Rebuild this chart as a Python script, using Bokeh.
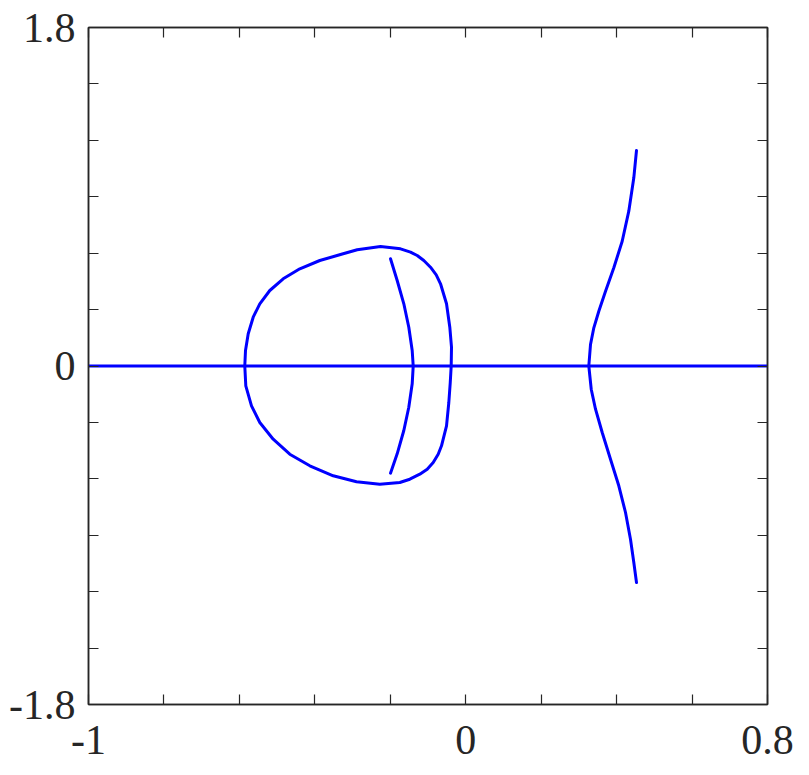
from bokeh.plotting import figure
from bokeh.models import FixedTicker, Range1d, LinearAxis
from bokeh.embed import file_html
from bokeh.resources import INLINE

# ---- data ----
x_ticks = [-1, 0, 0.8]
x_tick_labels = ["-1", "0", "0.8"]
x_minor = [-0.8, -0.6, -0.4, -0.2, 0.2, 0.4, 0.6]
x_all = [-1, -0.8, -0.6, -0.4, -0.2, 0, 0.2, 0.4, 0.6, 0.8]
y_ticks = [-1.8, 0, 1.8]
y_tick_labels = ["-1.8", "0", "1.8"]
y_minor = [-1.5, -1.2, -0.9, -0.6, -0.3, 0.3, 0.6, 0.9, 1.2, 1.5]
y_all = [-1.8, -1.5, -1.2, -0.9, -0.6, -0.3, 0, 0.3, 0.6, 0.9, 1.2, 1.5, 1.8]

real_axis_x = [-1.0, 0.8]
real_axis_y = [0.0, 0.0]

# closed loop (upper half left->right, then lower half right->left)
loop_x = [-0.5857, -0.5838, -0.5766, -0.5634, -0.5459, -0.5194, -0.4839, -0.4398,
          -0.3868, -0.3319, -0.2877, -0.2259, -0.1729, -0.1464, -0.1286, -0.1111,
          -0.0934, -0.0782, -0.0668, -0.0509, -0.0422, -0.0377, -0.0385,
          -0.0410, -0.0448, -0.0509, -0.0642, -0.0730, -0.0862, -0.1021, -0.1217,
          -0.1482, -0.1747, -0.2278, -0.2895, -0.3513, -0.4133, -0.4664, -0.5104,
          -0.5459, -0.5679, -0.5830, -0.5857]
loop_y = [0.0, 0.0824, 0.1712, 0.2595, 0.3308, 0.4015, 0.4637, 0.5169,
          0.5610, 0.5929, 0.6179, 0.6355, 0.6232, 0.6052, 0.5876, 0.5610,
          0.5254, 0.4850, 0.4371, 0.3308, 0.2063, 0.1000, 0.0,
          -0.0877, -0.1941, -0.3180, -0.4243, -0.4690, -0.5132, -0.5488, -0.5754,
          -0.6020, -0.6195, -0.6285, -0.6158, -0.5839, -0.5307, -0.4690, -0.3893,
          -0.3004, -0.2116, -0.1053, 0.0]

# inner arc
arc_x = [-0.1994, -0.1817, -0.1641, -0.1509, -0.1419, -0.1392,
         -0.1419, -0.1509, -0.1641, -0.1817, -0.1994]
arc_y = [0.5700, 0.4547, 0.3308, 0.2063, 0.0824, 0.0,
         -0.0947, -0.2191, -0.3430, -0.4669, -0.5700]

# right branch
right_x = [0.4527, 0.4456, 0.4323, 0.4148, 0.3926, 0.3706, 0.3528, 0.3396, 0.3308, 0.3263,
           0.3327, 0.3441, 0.3618, 0.3838, 0.4058, 0.4236, 0.4368, 0.4456, 0.4527]
right_y = [1.1459, 1.0008, 0.8232, 0.6636, 0.5222, 0.3978, 0.2914, 0.2031, 0.1143, 0.0,
           -0.1234, -0.2297, -0.3536, -0.4956, -0.6371, -0.7790, -0.9210, -1.0449, -1.1513]

# ---- figure ----
AX = "#262626"
FONT = "Liberation Serif"
FS = "42px"

p = figure(width=809, height=775, x_range=Range1d(-1, 0.8), y_range=Range1d(-1.8, 1.8),
           output_backend="svg", toolbar_location=None,
           min_border_left=88, min_border_top=27, min_border_right=42, min_border_bottom=71)
p.grid.visible = False
p.outline_line_color = AX
p.outline_line_width = 1.5
p.background_fill_color = "white"
p.border_fill_color = "white"


def style(ax):
    ax.axis_line_color = AX
    ax.axis_line_width = 1.5
    ax.major_tick_line_color = AX
    ax.minor_tick_line_color = AX
    ax.major_tick_line_width = 1.2
    ax.minor_tick_line_width = 1.2
    ax.major_tick_in = 10
    ax.major_tick_out = 0
    ax.minor_tick_in = 10
    ax.minor_tick_out = 0
    ax.major_label_text_font = FONT
    ax.major_label_text_font_size = FS
    ax.major_label_text_color = AX


p.xaxis[0].ticker = FixedTicker(ticks=x_ticks, minor_ticks=x_minor)
p.yaxis[0].ticker = FixedTicker(ticks=y_ticks, minor_ticks=y_minor)
p.xaxis[0].major_label_overrides = dict(zip(x_ticks, x_tick_labels))
p.yaxis[0].major_label_overrides = dict(zip(y_ticks, y_tick_labels))
style(p.xaxis[0])
style(p.yaxis[0])
p.xaxis[0].major_label_standoff = 21
p.yaxis[0].major_label_standoff = 13

# mirrored tick marks on the top and right edges (minor ticks only -> no labels)
top = LinearAxis(ticker=FixedTicker(ticks=[], minor_ticks=x_all))
right = LinearAxis(ticker=FixedTicker(ticks=[], minor_ticks=y_all))
style(top)
style(right)
top.major_label_standoff = 0
right.major_label_standoff = 0
p.add_layout(top, "above")
p.add_layout(right, "right")

BLUE = "#0000ff"
kw = dict(line_color=BLUE, line_width=3, line_cap="round", line_join="round")
p.line(real_axis_x, real_axis_y, **kw)
p.line(loop_x, loop_y, **kw)
p.line(arc_x, arc_y, **kw)
p.line(right_x, right_y, **kw)

open("out.html", "w").write(file_html(p, INLINE))
